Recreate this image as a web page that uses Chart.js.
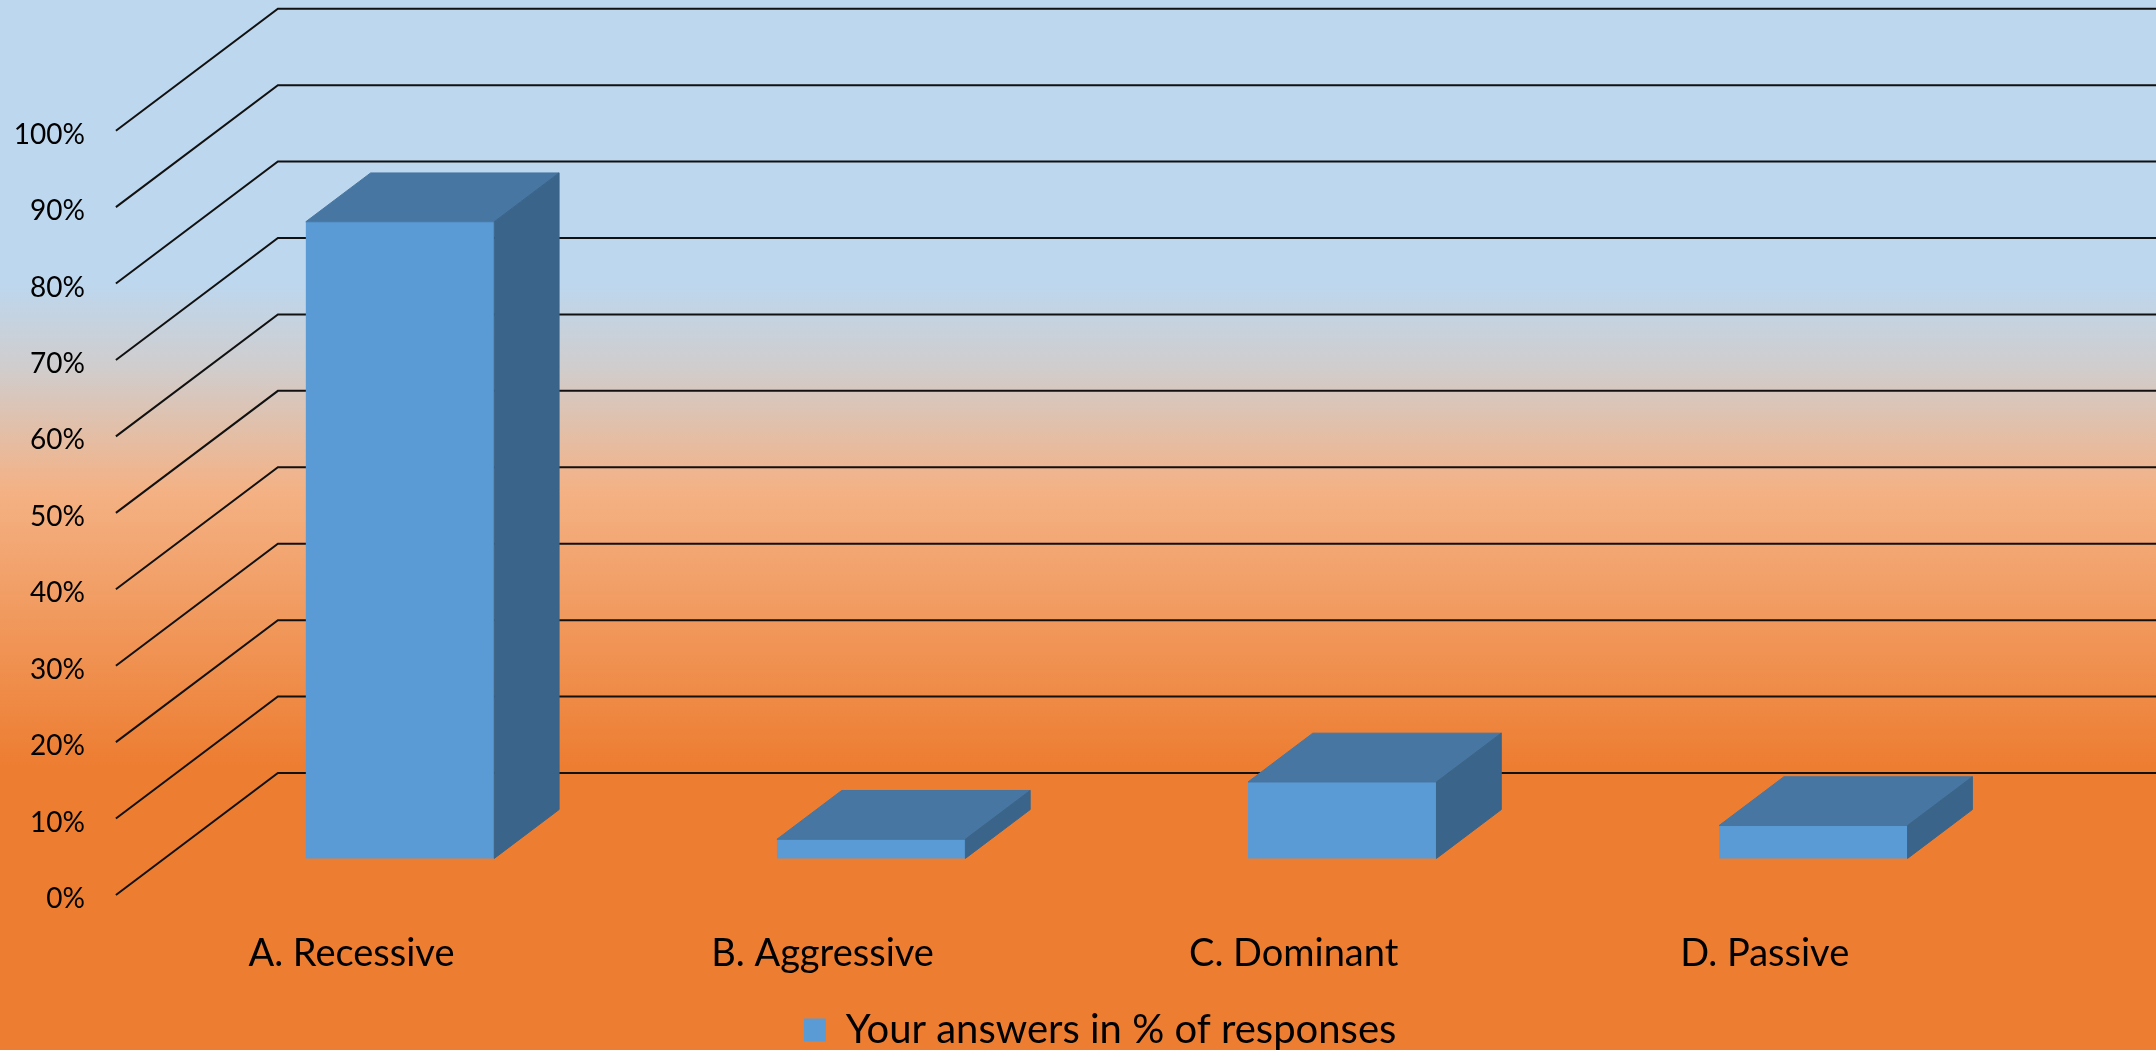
<!DOCTYPE html>
<html>
<head>
<meta charset="utf-8">
<script src="https://cdn.jsdelivr.net/npm/chart.js@4.4.1/dist/chart.umd.min.js"></script>
<style>
  html, body { margin: 0; padding: 0; background: #ed7d31; }
  #wrap { width: 2156px; height: 1050px; position: relative; }
</style>
</head>
<body>
<div id="wrap"><canvas id="chart"></canvas></div>
<script>
// data
const categories = ['A. Recessive', 'B. Aggressive', 'C. Dominant', 'D. Passive'];
const responses = [83.3, 2.5, 10, 4.3];
const seriesLabel = 'Your answers in % of responses';
const yTickValues = [0, 10, 20, 30, 40, 50, 60, 70, 80, 90, 100];

// 3D look (Excel style)
const DEPTH = { x: 162, y: -122 };
const BAR_FRONT = 0.3;
const BAR_BACK = 0.7;
const FRONT_COLOR = '#5b9bd5';
const TOP_COLOR = '#4676a1';
const SIDE_COLOR = '#3a6489';
const LEGEND_SHIFT = 42;

const threeD = {
    id: 'threeD',
    afterLayout(chart) {
        // legend sits a bit right of the plot centre in the original
        chart.legend.left += LEGEND_SHIFT;
        chart.legend.right += LEGEND_SHIFT;
    },
    beforeDraw(chart) {
        const { ctx, width, height } = chart;
        const g = ctx.createLinearGradient(0, 0, 0, height);
        g.addColorStop(0, '#bdd7ee');
        g.addColorStop(0.27, '#bdd7ee');
        g.addColorStop(0.35, '#d0cdcd');
        g.addColorStop(0.47, '#f4b183');
        g.addColorStop(0.73, '#ed7d31');
        g.addColorStop(1, '#ed7d31');
        ctx.save();
        ctx.fillStyle = g;
        ctx.fillRect(0, 0, width, height);
        ctx.restore();
    },
    beforeDatasetsDraw(chart) {
        const { ctx, chartArea, scales: { y } } = chart;
        ctx.save();
        ctx.strokeStyle = '#111';
        ctx.lineWidth = 2;
        y.ticks.forEach(t => {
            const py = y.getPixelForValue(t.value);
            ctx.beginPath();
            ctx.moveTo(chartArea.left, py);
            ctx.lineTo(chartArea.left + DEPTH.x, py + DEPTH.y);
            ctx.lineTo(chart.width, py + DEPTH.y);
            ctx.stroke();
        });
        ctx.restore();
        // push the bars back into the middle of the depth
        ctx.save();
        ctx.translate(DEPTH.x * BAR_FRONT, DEPTH.y * BAR_FRONT);
    },
    afterDatasetsDraw(chart) {
        const { ctx } = chart;
        const dx = DEPTH.x * (BAR_BACK - BAR_FRONT);
        const dy = DEPTH.y * (BAR_BACK - BAR_FRONT);
        chart.getDatasetMeta(0).data.forEach(bar => {
            const { x, y, base, width } = bar.getProps(['x', 'y', 'base', 'width'], true);
            const l = x - width / 2, r = x + width / 2;
            ctx.lineWidth = 1;
            // top face
            ctx.fillStyle = TOP_COLOR;
            ctx.strokeStyle = TOP_COLOR;
            ctx.beginPath();
            ctx.moveTo(l, y);
            ctx.lineTo(r, y);
            ctx.lineTo(r + dx, y + dy);
            ctx.lineTo(l + dx, y + dy);
            ctx.closePath();
            ctx.fill();
            ctx.stroke();
            // side face
            ctx.fillStyle = SIDE_COLOR;
            ctx.strokeStyle = SIDE_COLOR;
            ctx.beginPath();
            ctx.moveTo(r, y);
            ctx.lineTo(r + dx, y + dy);
            ctx.lineTo(r + dx, base + dy);
            ctx.lineTo(r, base);
            ctx.closePath();
            ctx.fill();
            ctx.stroke();
        });
        ctx.restore();
    }
};

new Chart(document.getElementById('chart'), {
    type: 'bar',
    data: {
        labels: categories,
        datasets: [{
            label: seriesLabel,
            data: responses,
            backgroundColor: FRONT_COLOR,
            borderWidth: 0,
            barPercentage: 0.4,
            categoryPercentage: 1,
            clip: false
        }]
    },
    options: {
        responsive: true,
        maintainAspectRatio: false,
        animation: false,
        layout: {
            padding: { top: 130.7, right: 155.7, bottom: -10, left: 0 }
        },
        plugins: {
            legend: {
                position: 'bottom',
                fullSize: false,
                labels: {
                    font: { family: 'Lato', size: 40 },
                    color: '#000',
                    boxWidth: 22,
                    boxHeight: 23,
                    padding: 10
                }
            },
            tooltip: { enabled: false }
        },
        scales: {
            x: {
                grid: { display: false },
                border: { display: false },
                ticks: {
                    font: { family: 'Lato', size: 38 },
                    color: '#000',
                    padding: 28,
                    maxRotation: 0
                },
                afterFit: s => { s.height = 105; }
            },
            y: {
                min: 0,
                max: 100,
                grid: { display: false },
                border: { display: false },
                ticks: {
                    font: { family: 'Lato', size: 28 },
                    color: '#000',
                    padding: 23,
                    labelOffset: 4,
                    callback: v => v + '%'
                },
                afterBuildTicks: s => { s.ticks = yTickValues.map(v => ({ value: v })); },
                afterFit: s => { s.width = 115.9; }
            }
        }
    },
    plugins: [threeD]
});
</script>
</body>
</html>
